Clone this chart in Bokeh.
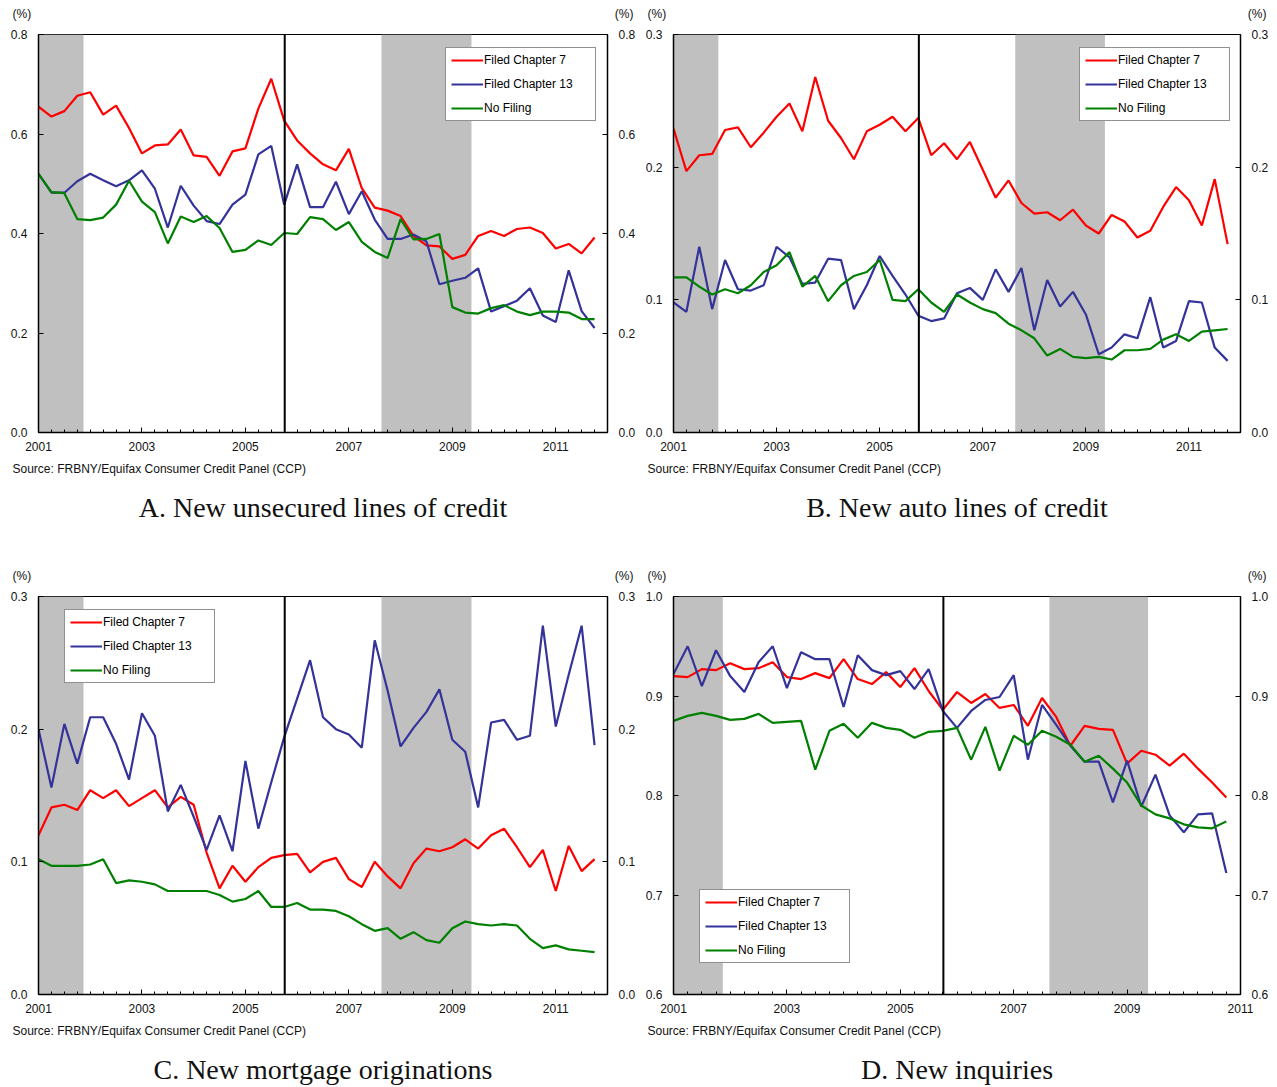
from bokeh.plotting import figure
from bokeh.models import (Range1d, LinearAxis, FixedTicker, NumeralTickFormatter,
                          BoxAnnotation, Span, Legend, LegendItem, Title)
from bokeh.layouts import gridplot
from bokeh.embed import file_html
from bokeh.resources import INLINE

# ---------------- data ----------------
start_year = 2001
n_quarters_abc = 44   # 2001Q1 .. 2011Q4
n_quarters_d = 40     # 2001Q1 .. 2010Q4

series_labels = ["Filed Chapter 7", "Filed Chapter 13", "No Filing"]

a_ch7 = [0.655, 0.635, 0.646, 0.677, 0.684, 0.639, 0.657, 0.612, 0.561, 0.577,
         0.579, 0.609, 0.557, 0.554, 0.516, 0.565, 0.571, 0.651, 0.711, 0.627,
         0.587, 0.561, 0.539, 0.527, 0.570, 0.491, 0.452, 0.446, 0.435, 0.395,
         0.376, 0.374, 0.349, 0.357, 0.395, 0.405, 0.395, 0.409, 0.412, 0.401,
         0.370, 0.379, 0.360, 0.392]
a_ch13 = [0.520, 0.482, 0.482, 0.505, 0.520, 0.507, 0.495, 0.507, 0.527, 0.490,
          0.412, 0.496, 0.456, 0.425, 0.419, 0.458, 0.478, 0.559, 0.576, 0.458,
          0.539, 0.453, 0.453, 0.504, 0.439, 0.485, 0.428, 0.389, 0.389, 0.398,
          0.384, 0.298, 0.305, 0.311, 0.330, 0.243, 0.254, 0.265, 0.290, 0.235,
          0.222, 0.326, 0.244, 0.210]
a_nofile = [0.520, 0.483, 0.481, 0.429, 0.427, 0.432, 0.458, 0.506, 0.464, 0.443,
            0.380, 0.434, 0.423, 0.435, 0.411, 0.363, 0.367, 0.386, 0.377, 0.401,
            0.399, 0.433, 0.429, 0.407, 0.423, 0.383, 0.363, 0.351, 0.429, 0.388,
            0.389, 0.399, 0.252, 0.241, 0.239, 0.250, 0.256, 0.243, 0.236, 0.243,
            0.243, 0.241, 0.228, 0.228]

b_ch7 = [0.229, 0.197, 0.209, 0.210, 0.228, 0.230, 0.215, 0.226, 0.238, 0.248,
         0.227, 0.268, 0.235, 0.222, 0.206, 0.227, 0.232, 0.238, 0.227, 0.237,
         0.209, 0.218, 0.206, 0.219, 0.198, 0.177, 0.190, 0.173, 0.165, 0.166,
         0.160, 0.168, 0.156, 0.150, 0.164, 0.159, 0.147, 0.152, 0.170, 0.185,
         0.175, 0.156, 0.191, 0.142]
b_ch13 = [0.098, 0.091, 0.140, 0.093, 0.130, 0.108, 0.107, 0.111, 0.140, 0.132,
          0.112, 0.113, 0.131, 0.130, 0.093, 0.111, 0.133, 0.118, 0.104, 0.088,
          0.084, 0.086, 0.105, 0.109, 0.100, 0.123, 0.106, 0.124, 0.077, 0.115,
          0.095, 0.106, 0.089, 0.059, 0.064, 0.074, 0.071, 0.102, 0.064, 0.069,
          0.099, 0.098, 0.064, 0.054]
b_nofile = [0.117, 0.117, 0.110, 0.104, 0.108, 0.105, 0.111, 0.121, 0.126, 0.136,
            0.110, 0.118, 0.099, 0.111, 0.118, 0.121, 0.130, 0.100, 0.099, 0.108,
            0.098, 0.091, 0.104, 0.098, 0.093, 0.090, 0.082, 0.077, 0.071, 0.058,
            0.063, 0.057, 0.056, 0.057, 0.055, 0.062, 0.062, 0.063, 0.070, 0.074,
            0.069, 0.076, 0.077, 0.078]

c_ch7 = [0.120, 0.141, 0.143, 0.139, 0.154, 0.148, 0.154, 0.142, 0.148, 0.154,
         0.141, 0.149, 0.143, 0.107, 0.080, 0.097, 0.085, 0.096, 0.103, 0.105,
         0.106, 0.092, 0.100, 0.103, 0.087, 0.081, 0.100, 0.089, 0.080, 0.099,
         0.110, 0.108, 0.111, 0.117, 0.110, 0.120, 0.125, 0.111, 0.096, 0.109,
         0.078, 0.112, 0.093, 0.102]
c_ch13 = [0.200, 0.156, 0.204, 0.174, 0.209, 0.209, 0.189, 0.162, 0.212, 0.195,
          0.138, 0.158, 0.134, 0.109, 0.135, 0.108, 0.176, 0.125, 0.160, 0.194,
          0.223, 0.252, 0.209, 0.200, 0.196, 0.186, 0.267, 0.229, 0.187, 0.201,
          0.213, 0.230, 0.192, 0.183, 0.141, 0.205, 0.207, 0.192, 0.195, 0.278,
          0.202, 0.241, 0.278, 0.188]
c_nofile = [0.102, 0.097, 0.097, 0.097, 0.098, 0.102, 0.084, 0.086, 0.085, 0.083,
            0.078, 0.078, 0.078, 0.078, 0.075, 0.070, 0.072, 0.078, 0.066, 0.066,
            0.069, 0.064, 0.064, 0.063, 0.059, 0.053, 0.048, 0.050, 0.042, 0.047,
            0.041, 0.039, 0.050, 0.055, 0.053, 0.052, 0.053, 0.052, 0.042, 0.035,
            0.037, 0.034, 0.033, 0.032]

d_ch7 = [0.920, 0.919, 0.927, 0.926, 0.933, 0.927, 0.928, 0.934, 0.919, 0.917,
         0.923, 0.918, 0.937, 0.917, 0.912, 0.924, 0.909, 0.928, 0.905, 0.886,
         0.904, 0.893, 0.902, 0.888, 0.891, 0.870, 0.898, 0.879, 0.850, 0.870,
         0.867, 0.866, 0.832, 0.845, 0.841, 0.830, 0.842, 0.827, 0.813, 0.798]
d_ch13 = [0.922, 0.950, 0.910, 0.946, 0.920, 0.904, 0.934, 0.950, 0.908, 0.944,
          0.937, 0.937, 0.889, 0.941, 0.926, 0.921, 0.925, 0.907, 0.927, 0.885,
          0.868, 0.885, 0.896, 0.899, 0.921, 0.836, 0.891, 0.871, 0.850, 0.834,
          0.834, 0.793, 0.835, 0.789, 0.821, 0.780, 0.763, 0.781, 0.782, 0.722]
d_nofile = [0.875, 0.880, 0.883, 0.880, 0.876, 0.877, 0.882, 0.873, 0.874, 0.875,
            0.826, 0.865, 0.872, 0.858, 0.873, 0.868, 0.866, 0.858, 0.864, 0.865,
            0.868, 0.836, 0.869, 0.825, 0.860, 0.851, 0.865, 0.859, 0.851, 0.834,
            0.840, 0.827, 0.813, 0.790, 0.781, 0.777, 0.771, 0.768, 0.767, 0.774]

recessions = [(2001.0, 2001.87), (2007.63, 2009.37)]
bapcpa = 2005.76

x_tick_years = [2001, 2003, 2005, 2007, 2009, 2011]
y_ticks_a = [0.0, 0.2, 0.4, 0.6, 0.8]
y_ticks_bc = [0.0, 0.1, 0.2, 0.3]
y_ticks_d = [0.6, 0.7, 0.8, 0.9, 1.0]

captions = ["A. New unsecured lines of credit", "B. New auto lines of credit",
            "C. New mortgage originations", "D. New inquiries"]
source_note = "Source: FRBNY/Equifax Consumer Credit Panel (CCP)"
unit_label = "(%)"

colors = ["#FF0000", "#333399", "#008000"]
SANS = "Liberation Sans"
SERIF = "Liberation Serif"
NBSP = "\u00a0"


def quarter_positions(n):
    return [start_year + i / 4 for i in range(n)]


def text_axis(ticks, overrides, standoff, font, size):
    return LinearAxis(ticker=FixedTicker(ticks=ticks, minor_ticks=[]),
                      major_label_overrides=overrides,
                      axis_line_color=None, major_tick_line_color=None,
                      minor_tick_line_color=None,
                      major_tick_in=0, major_tick_out=0,
                      minor_tick_in=0, minor_tick_out=0,
                      major_label_standoff=standoff,
                      major_label_text_font=font, major_label_text_font_size=size,
                      major_label_text_color="#111111")


def make_panel(series, n, xr, yr, yticks, caption, legend_loc,
               width, height, b_left, b_right, b_bottom):
    p = figure(width=width, height=height,
               x_range=Range1d(*xr), y_range=Range1d(*yr),
               output_backend="svg", toolbar_location=None,
               min_border_left=b_left, min_border_right=b_right,
               min_border_top=34, min_border_bottom=b_bottom)
    p.xgrid.visible = False
    p.ygrid.visible = False
    p.outline_line_color = "black"
    p.outline_line_width = 1
    p.background_fill_color = "white"
    p.border_fill_color = "white"

    for lo, hi in recessions:
        p.add_layout(BoxAnnotation(left=lo, right=min(hi, xr[1]), fill_color="#C0C0C0",
                                   fill_alpha=1.0, line_color=None, level="underlay"))

    xs = quarter_positions(n)
    renderers = []
    for vals, col in zip(series, colors):
        renderers.append(p.line(xs, vals, line_color=col, line_width=2.2))

    p.add_layout(Span(location=bapcpa, dimension="height", line_color="black",
                      line_width=2))

    x0, x1 = xr
    minor = [start_year + i / 4 for i in range(int((x1 - x0) * 4) + 1)]
    p.xaxis.ticker = FixedTicker(ticks=x_tick_years, minor_ticks=minor)
    p.xaxis.major_tick_in = 5
    p.xaxis.major_tick_out = 0
    p.xaxis.minor_tick_in = 3
    p.xaxis.minor_tick_out = 0
    p.xaxis.major_label_standoff = 9

    p.add_layout(LinearAxis(), "right")
    for ax in p.yaxis:
        ax.ticker = FixedTicker(ticks=yticks, minor_ticks=[])
        ax.formatter = NumeralTickFormatter(format="0.0")
        ax.major_tick_in = 5
        ax.major_tick_out = 0
        ax.minor_tick_in = 0
        ax.minor_tick_out = 0
        ax.major_label_standoff = 11
    for ax in p.xaxis + p.yaxis:
        ax.axis_line_color = "black"
        ax.axis_line_width = 1.5
        ax.major_tick_line_color = "black"
        ax.minor_tick_line_color = "black"
        ax.major_label_text_font = SANS
        ax.major_label_text_font_size = "12px"
        ax.major_label_text_color = "#111111"

    # "(%)" unit labels above both vertical axes
    pad = NBSP * 10
    p.add_layout(text_axis([x0, x1], {x0: unit_label + pad, x1: pad + unit_label},
                           14, SANS, "12px"), "above")

    # source note and caption below
    p.add_layout(Title(text=source_note, align="left", offset=-26, standoff=13,
                       vertical_align="bottom", text_font=SANS, text_font_size="12px",
                       text_font_style="normal", text_color="#111111"), "below")
    mid = (x0 + x1) / 2
    p.add_layout(text_axis([mid], {mid: caption}, 9, SERIF, "28px"), "below")

    legend = Legend(items=[LegendItem(label=lab, renderers=[r])
                           for lab, r in zip(series_labels, renderers)],
                    location=legend_loc, orientation="vertical",
                    padding=5, spacing=10, margin=0,
                    label_height=12, glyph_height=12, glyph_width=32,
                    label_standoff=1, label_width=106,
                    label_text_font=SANS, label_text_font_size="12px",
                    label_text_color="#000000",
                    border_line_color="#222222", border_line_width=1,
                    background_fill_color="white", background_fill_alpha=1.0)
    p.add_layout(legend, "center")
    return p


pA = make_panel([a_ch7, a_ch13, a_nofile], n_quarters_abc, (2001, 2012), (0, 0.8),
                y_ticks_a, captions[0], (407, 311), 642, 562, 38, 35, 130)
pB = make_panel([b_ch7, b_ch13, b_nofile], n_quarters_abc, (2001, 2012), (0, 0.3),
                y_ticks_bc, captions[1], (406, 311), 634, 562, 30, 36, 130)
pC = make_panel([c_ch7, c_ch13, c_nofile], n_quarters_abc, (2001, 2012), (0, 0.3),
                y_ticks_bc, captions[2], (26, 311), 642, 525, 38, 35, 93)
pD = make_panel([d_ch7, d_ch13, d_nofile], n_quarters_d, (2001, 2011), (0.6, 1.0),
                y_ticks_d, captions[3], (26, 31), 634, 525, 30, 36, 93)

grid = gridplot([[pA, pB], [pC, pD]], toolbar_location=None)

open("out.html", "w").write(file_html(grid, INLINE))
